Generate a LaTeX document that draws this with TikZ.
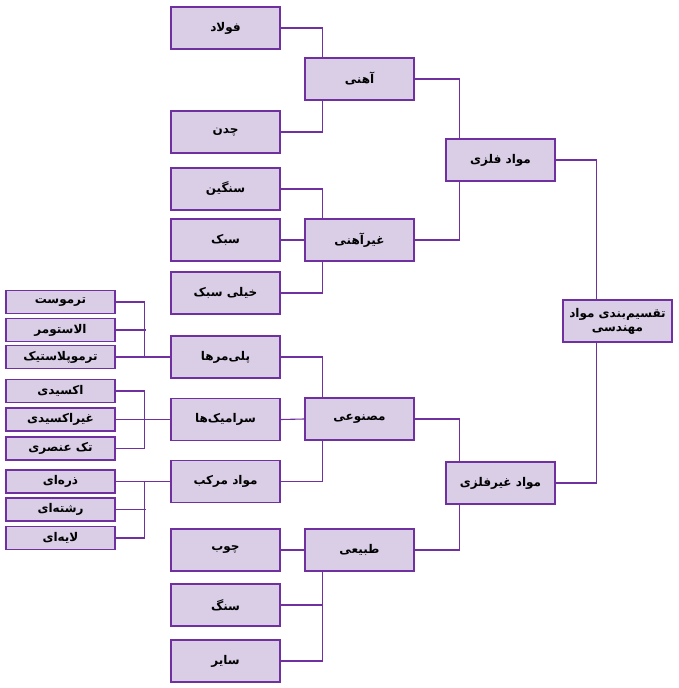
\documentclass[tikz,border=0pt]{standalone}
\usepackage{fontspec}
\usepackage{tikz}
\usetikzlibrary{positioning}
\TeXXeTstate=1
\newfontfamily\farsifont[Script=Arabic]{DejaVu Sans}
\newcommand{\fa}[1]{\beginR #1\endR}
\definecolor{boxfill}{HTML}{D9CEE6}
\definecolor{boxline}{HTML}{7030A0}
\tikzstyle{matbox}=[shape=rectangle,draw=boxline,fill=boxfill,line width=1.1pt,minimum width=109pt,minimum height=42pt,inner sep=2pt,font=\farsifont\bfseries\fontsize{12}{16}\selectfont]
\tikzstyle{smallbox}=[matbox,minimum height=23pt]
\tikzstyle{mainedge}=[draw=boxline,line width=1.1pt]

\begin{document}
\begin{tikzpicture}[x=1pt,y=-1pt]
\useasboundingbox (0,0) rectangle (678,688);
% root and 1st level
\node[matbox,align=center] (n0_0) at (617.5,321) {\fa{تقسیم^^^^200cبندی مواد}\\[-2pt]\fa{مهندسی}};
\node[matbox] (n1_0) at (500.5,160) {\fa{مواد فلزی}};
\node[matbox] (n1_1) at (500.5,483) {\fa{مواد غیرفلزی}};
% 2nd level
\node[matbox] (n2_0) at (359.5,79) {\fa{آهنی}};
\node[matbox] (n2_1) at (359.5,240) {\fa{غیرآهنی}};
\node[matbox] (n2_2) at (359.5,419) {\fa{مصنوعی}};
\node[matbox] (n2_3) at (359.5,550) {\fa{طبیعی}};
% 3rd level
\node[matbox] (n3_0) at (225.5,28) {\fa{فولاد}};
\node[matbox] (n3_1) at (225.5,132) {\fa{چدن}};
\node[matbox] (n3_2) at (225.5,189) {\fa{سنگین}};
\node[matbox] (n3_3) at (225.5,240) {\fa{سبک}};
\node[matbox] (n3_4) at (225.5,293) {\fa{خیلی سبک}};
\node[matbox] (n3_5) at (225.5,357) {\fa{پلی^^^^200cمرها}};
\node[matbox] (n3_6) at (225.5,419.5) {\fa{سرامیک^^^^200cها}};
\node[matbox] (n3_7) at (225.5,481.5) {\fa{مواد مرکب}};
\node[matbox] (n3_8) at (225.5,550) {\fa{چوب}};
\node[matbox] (n3_9) at (225.5,605) {\fa{سنگ}};
\node[matbox] (n3_10) at (225.5,661) {\fa{سایر}};
% 4th level
\node[smallbox] (n4_0) at (60.5,302) {\fa{ترموست}};
\node[smallbox] (n4_1) at (60.5,330) {\fa{الاستومر}};
\node[smallbox] (n4_2) at (60.5,357) {\fa{ترموپلاستیک}};
\node[smallbox] (n4_3) at (60.5,391) {\fa{اکسیدی}};
\node[smallbox] (n4_4) at (60.5,419.5) {\fa{غیراکسیدی}};
\node[smallbox] (n4_5) at (60.5,448.5) {\fa{تک عنصری}};
\node[smallbox] (n4_6) at (60.5,481.5) {\fa{ذره^^^^200cای}};
\node[smallbox] (n4_7) at (60.5,509.5) {\fa{رشته^^^^200cای}};
\node[smallbox] (n4_8) at (60.5,538) {\fa{لایه^^^^200cای}};

% connectors
\draw[mainedge] (n1_0.east) -| ([xshift=34pt]n0_0.north west);
\draw[mainedge] (n1_1.east) -| ([xshift=34pt]n0_0.south west);
\draw[mainedge] (n2_0.east) -| ([xshift=14pt]n1_0.north west);
\draw[mainedge] (n2_1.east) -| ([xshift=14pt]n1_0.south west);
\draw[mainedge] (n2_2.east) -| ([xshift=14pt]n1_1.north west);
\draw[mainedge] (n2_3.east) -| ([xshift=14pt]n1_1.south west);
\draw[mainedge] (n3_0.east) -| ([xshift=18pt]n2_0.north west);
\draw[mainedge] (n3_1.east) -| ([xshift=18pt]n2_0.south west);
\draw[mainedge] (n3_2.east) -| ([xshift=18pt]n2_1.north west);
\draw[mainedge] (n3_3.east) -- (n2_1.west);
\draw[mainedge] (n3_4.east) -| ([xshift=18pt]n2_1.south west);
\draw[mainedge] (n3_5.east) -| ([xshift=18pt]n2_2.north west);
\draw[mainedge] (n3_6.east) -- (n2_2.west);
\draw[mainedge] (n3_7.east) -| ([xshift=18pt]n2_2.south west);
\draw[mainedge] (n3_8.east) -- (n2_3.west);
\draw[mainedge] (n3_9.east) -| ([xshift=18pt]n2_3.south west);
\draw[mainedge] (n3_10.east) -| ([xshift=18pt]n2_3.south west);
\draw[mainedge] (n4_0.east) -| ([xshift=-26pt]n3_5.west);
\draw[mainedge] (n4_1.east) -- ([xshift=30pt]n4_1.east);
\draw[mainedge] (n4_2.east) -- (n3_5.west);
\draw[mainedge] (n4_3.east) -| ([xshift=-26pt]n3_6.west);
\draw[mainedge] (n4_4.east) -- (n3_6.west);
\draw[mainedge] (n4_5.east) -| ([xshift=-26pt]n3_6.west);
\draw[mainedge] (n4_6.east) -- (n3_7.west);
\draw[mainedge] (n4_7.east) -- ([xshift=30pt]n4_7.east);
\draw[mainedge] (n4_8.east) -| ([xshift=-26pt]n3_7.west);
\end{tikzpicture}
\end{document}
